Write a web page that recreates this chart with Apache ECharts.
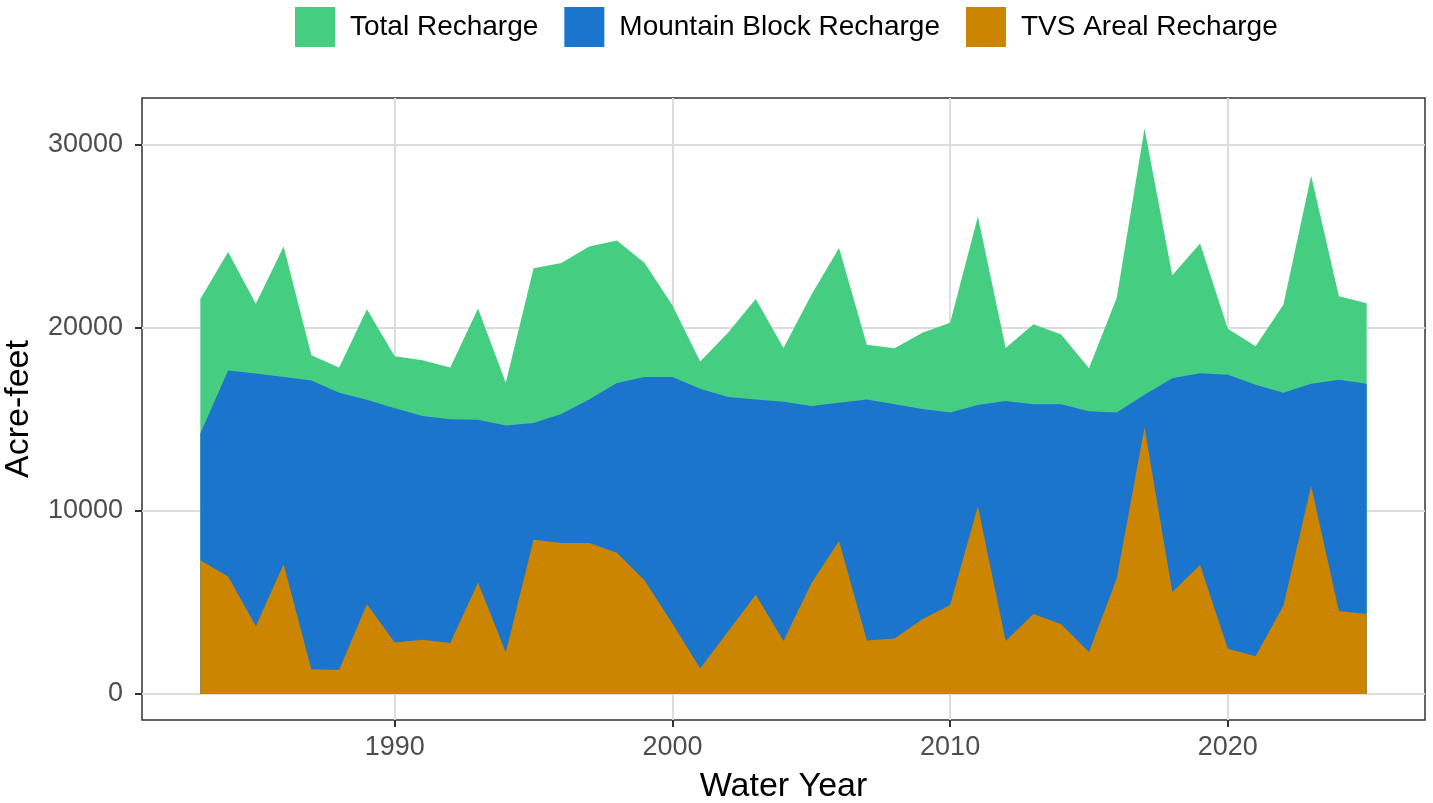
<!DOCTYPE html>
<html>
<head>
<meta charset="utf-8">
<script src="https://cdn.jsdelivr.net/npm/echarts@6/dist/echarts.min.js"></script>
<style>html,body{margin:0;padding:0;background:#fff}#chart{width:1433px;height:803px}</style>
</head>
<body>
<div id="chart"></div>
<script>
const years = [1983,1984,1985,1986,1987,1988,1989,1990,1991,1992,1993,1994,1995,1996,1997,1998,1999,2000,2001,2002,2003,2004,2005,2006,2007,2008,2009,2010,2011,2012,2013,2014,2015,2016,2017,2018,2019,2020,2021,2022,2023,2024,2025];
const totalRecharge = [21590,24150,21320,24460,18510,17840,21030,18460,18240,17840,21070,17010,23260,23550,24460,24780,23550,21250,18170,19740,21590,18910,21800,24370,19090,18890,19740,20290,26090,18910,20200,19650,17800,21650,30910,22880,24620,19960,19000,21270,28320,21740,21360];
const mountainRecharge = [14230,17680,17510,17330,17130,16460,16080,15610,15190,15010,14990,14670,14810,15300,16100,16990,17330,17330,16680,16230,16100,15970,15740,15920,16100,15830,15570,15390,15790,16010,15830,15830,15450,15390,16350,17260,17530,17440,16900,16460,16950,17170,16950];
const tvsRecharge = [7310,6420,3700,7090,1340,1320,4910,2810,2970,2790,6090,2270,8430,8250,8250,7720,6200,3860,1400,3410,5420,2900,6040,8360,2920,3030,4080,4860,10260,2900,4370,3810,2300,6310,14560,5580,7050,2480,2070,4820,11370,4530,4370];
const seriesNames = ['Total Recharge','Mountain Block Recharge','TVS Areal Recharge'];
const xTicks = [1990,2000,2010,2020];
const yTicks = [0,10000,20000,30000];

const colors = ['#45CE82','#1B75CC','#CC8500'];
const font = '"Liberation Sans", Arial, sans-serif';
const chart = echarts.init(document.getElementById('chart'), null, {renderer:'canvas'});
function pairs(v){ return years.map((y,i)=>[y,v[i]]); }
const dataSets = [totalRecharge, mountainRecharge, tvsRecharge];
chart.setOption({
  animation:false,
  color: colors,
  legend:{
    top:2, left:290, itemWidth:40, itemHeight:40, itemGap:26,
    icon:'rect',
    textStyle:{fontFamily:font, fontSize:28, color:'#000', padding:[0,0,0,10]},
    data: seriesNames
  },
  grid:{left:142, right:8, top:98, bottom:83, containLabel:false, outerBoundsMode:'none',
        show:true, borderColor:'#333', borderWidth:1.5, backgroundColor:'transparent'},
  xAxis:{
    type:'value', min:1980.9, max:2027.1,
    name:'Water Year', nameLocation:'middle', nameGap:50,
    nameTextStyle:{fontFamily:font, fontSize:34, color:'#000'},
    axisLine:{show:false, onZero:false},
    axisTick:{show:true, length:7, customValues:xTicks, lineStyle:{color:'#333', width:2}},
    axisLabel:{customValues:xTicks, fontFamily:font, fontSize:27, color:'#4d4d4d', margin:14, formatter:v=>String(v)},
    splitLine:{show:true, lineStyle:{color:'#dcdcdc', width:2}}
  },
  yAxis:{
    type:'value', min:-1420, max:32570,
    name:'Acre-feet', nameLocation:'middle', nameGap:106,
    nameTextStyle:{fontFamily:font, fontSize:34, color:'#000'},
    axisLine:{show:false, onZero:false},
    axisTick:{show:true, length:7, customValues:yTicks, lineStyle:{color:'#333', width:2}},
    axisLabel:{customValues:yTicks, fontFamily:font, fontSize:27, color:'#4d4d4d', margin:19, formatter:v=>String(v)},
    splitLine:{show:true, lineStyle:{color:'#dcdcdc', width:2}}
  },
  series: seriesNames.map((n,i)=>({
    name:n, type:'line', data:pairs(dataSets[i]),
    showSymbol:false, symbol:'none',
    lineStyle:{width:0},
    areaStyle:{color:colors[i], opacity:1},
    itemStyle:{color:colors[i]},
    z:2+i
  }))
});
</script>
</body>
</html>
